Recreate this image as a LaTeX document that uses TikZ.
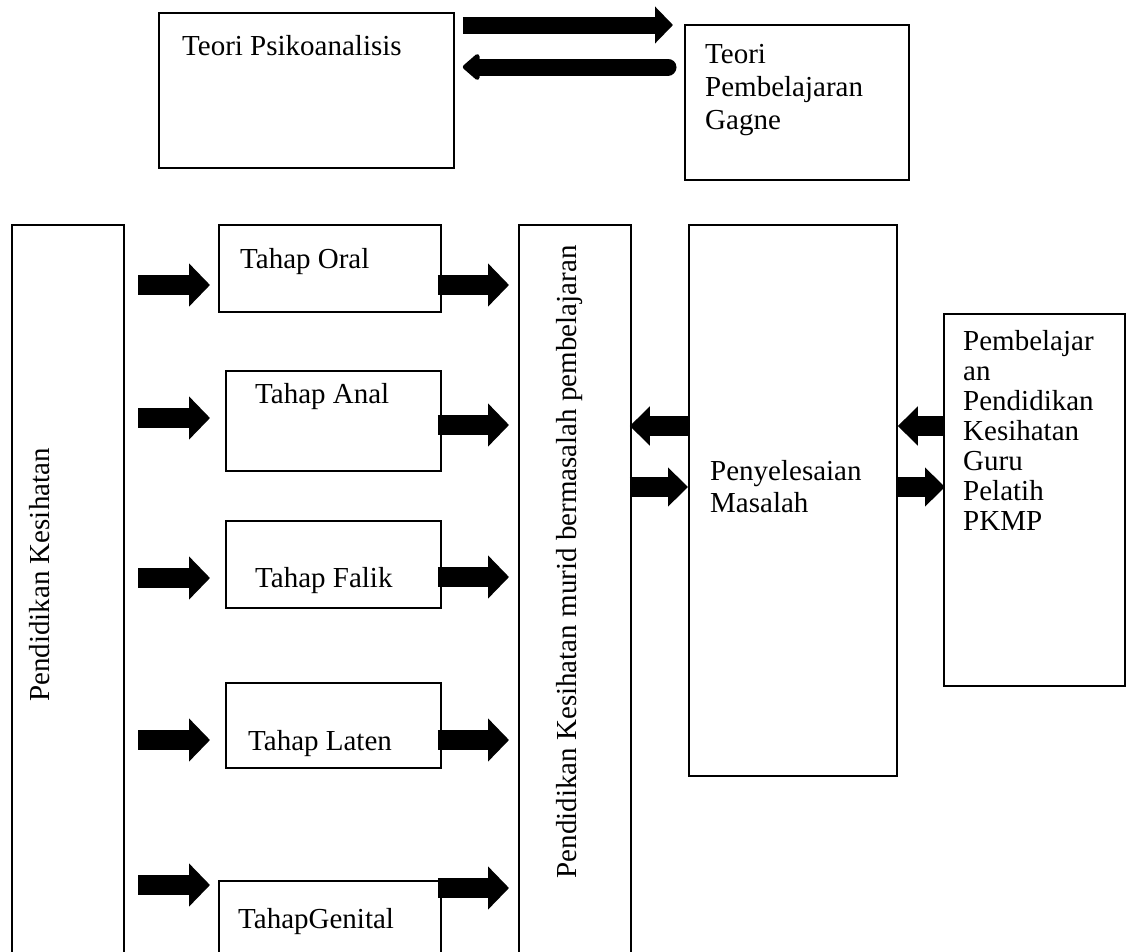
\documentclass[tikz,border=0pt]{standalone}
\usepackage{fontspec}
\setmainfont{Liberation Serif}
\usetikzlibrary{arrows.meta,calc}

\begin{document}
\begin{tikzpicture}[x=1pt,y=-1pt,
  box/.style={draw,line width=1.8pt,rectangle,anchor=north west,inner sep=0pt},
  lbl/.style={anchor=base west,inner sep=0pt,font=\fontsize{29}{31}\selectfont},
  vlbl/.style={inner sep=0pt,rotate=90,font=\fontsize{29}{31}\selectfont},
  blk/.style={line width=20pt,-{Triangle[length=21pt,width=42pt]}},
  blkmid/.style={line width=20pt,-{Triangle[length=20pt,width=38pt]}},
  blktop/.style={line width=17pt,-{Triangle[length=18pt,width=36pt]}},
  blktopr/.style={line width=17pt,line cap=round,-{Triangle[round,length=18pt,width=30pt]}},
]
\useasboundingbox (0,0) rectangle (1126,951);

% top pair of theories
\node[box,minimum width=295pt,minimum height=155pt] (psiko) at (158,12) {};
\node[lbl] (psikot) at (182,55) {Teori Psikoanalisis};
\node[box,minimum width=224pt,minimum height=155pt] (gagne) at (684,24) {};
\node[lbl] (gagne1) at (705,63) {Teori};
\node[lbl] (gagne2) at (705,96) {Pembelajaran};
\node[lbl] (gagne3) at (705,129) {Gagne};
\draw[blktop] ($(psiko.north east)+(8,13)$) -- ($(gagne.north west)+(-11,1)$);
\draw[blktopr] ($(gagne.north west)+(-16,43)$) -- ($(psiko.north east)+(8,55)$);

% tall column boxes
\node[box,minimum width=112pt,minimum height=760pt] (pk) at (11,224) {};
\node[vlbl] (pkt) at (40,575) {Pendidikan Kesihatan};
\node[box,minimum width=112pt,minimum height=760pt] (murid) at (518,224) {};
\node[vlbl] (muridt) at (570,562) {Pendidikan Kesihatan murid bermasalah pembelajaran};

% stages
\node[box,minimum width=222pt,minimum height=87pt] (oral) at (218,224) {};
\node[lbl] at (240,268) {Tahap Oral};
\node[box,minimum width=215pt,minimum height=100pt] (anal) at (225,370) {};
\node[lbl] at (255,403) {Tahap Anal};
\node[box,minimum width=215pt,minimum height=87pt] (falik) at (225,520) {};
\node[lbl] at (255,587) {Tahap Falik};
\node[box,minimum width=215pt,minimum height=85pt] (laten) at (225,682) {};
\node[lbl] at (248,750) {Tahap Laten};
\node[box,minimum width=222pt,minimum height=100pt] (genital) at (218,880) {};
\node[lbl] at (238,928) {TahapGenital};

% arrows into and out of each stage
\draw[blk] ($(oral.north west)+(-80,61)$) -- ($(oral.north west)+(-8,61)$);
\draw[blk] ($(oral.north east)+(-4,61)$) -- ($(murid.north west)+(-9,61)$);
\draw[blk] ($(anal.north west)+(-87,48)$) -- ($(anal.north west)+(-15,48)$);
\draw[blk] ($(anal.north east)+(-4,55)$) -- ($(murid.north west)+(-9,201)$);
\draw[blk] ($(falik.north west)+(-87,58)$) -- ($(falik.north west)+(-15,58)$);
\draw[blk] ($(falik.north east)+(-4,57)$) -- ($(murid.north west)+(-9,353)$);
\draw[blk] ($(laten.north west)+(-87,58)$) -- ($(laten.north west)+(-15,58)$);
\draw[blk] ($(laten.north east)+(-4,58)$) -- ($(murid.north west)+(-9,516)$);
\draw[blk] ($(genital.north west)+(-80,5)$) -- ($(genital.north west)+(-8,5)$);
\draw[blk] ($(genital.north east)+(-4,8)$) -- ($(murid.north west)+(-9,664)$);

% problem solving and trainee teachers
\node[box,minimum width=208pt,minimum height=551pt] (solve) at (688,224) {};
\node[lbl] at (710,480) {Penyelesaian};
\node[lbl] at (710,512) {Masalah};
\node[box,minimum width=181pt,minimum height=372pt] (guru) at (943,313) {};
\foreach \t [count=\i from 0] in {Pembelajar,an,Pendidikan,Kesihatan,Guru,Pelatih,PKMP}
  \node[lbl] at (963,350+30*\i) {\t};

\draw[blkmid] ($(solve.north west)+(0,202)$) -- ($(murid.north east)+(-2,202)$);
\draw[blkmid] ($(murid.north east)+(-2,263)$) -- ($(solve.north west)+(0,263)$);
\draw[blkmid] ($(guru.north west)+(2,113)$) -- ($(solve.north east)+(0,202)$);
\draw[blkmid] ($(solve.north east)+(0,263)$) -- ($(guru.north west)+(2,174)$);
\end{tikzpicture}
\end{document}
